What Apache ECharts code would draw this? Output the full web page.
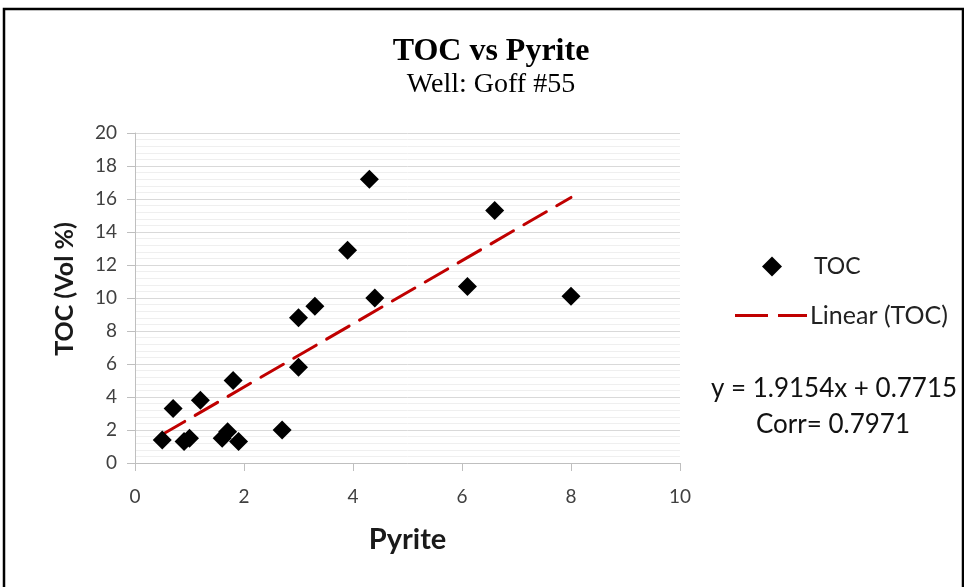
<!DOCTYPE html>
<html>
<head>
<meta charset="utf-8">
<script src="https://cdn.jsdelivr.net/npm/echarts@6/dist/echarts.min.js"></script>
<style>html,body{margin:0;padding:0;background:#fff;}#c{width:964px;height:587px;}</style>
</head>
<body>
<div id="c"></div>
<script>
var pyrite = [0.5, 0.7, 0.9, 1.0, 1.2, 1.6, 1.7, 1.8, 1.9, 2.7, 3.0, 3.0, 3.3, 3.9, 4.3, 4.4, 6.1, 6.6, 8.0];
var toc    = [1.4, 3.3, 1.3, 1.5, 3.8, 1.5, 1.9, 5.0, 1.3, 2.0, 8.8, 5.8, 9.5, 12.9, 17.2, 10.0, 10.7, 15.3, 10.1];
var slope = 1.9154, intercept = 0.7715, corr = 0.7971;

var pts = pyrite.map(function (x, i) { return [x, toc[i]]; });
var xmin = Math.min.apply(null, pyrite), xmax = Math.max.apply(null, pyrite);
var trend = [[xmin, slope * xmin + intercept], [xmax, slope * xmax + intercept]];

var sans = 'Lato, "Open Sans", sans-serif';
var chart = echarts.init(document.getElementById('c'));
chart.setOption({
  animation: false,
  backgroundColor: '#fff',
  grid: { left: 135, right: 284, top: 133, bottom: 124 },
  xAxis: {
    type: 'value', min: 0, max: 10, interval: 2,
    name: 'Pyrite', nameLocation: 'middle', nameGap: 62,
    nameTextStyle: { fontFamily: sans, fontSize: 29, fontWeight: 'bold', color: '#1a1a1a' },
    axisLine: { show: true, lineStyle: { color: '#bfbfbf' } },
    axisTick: { show: true, length: 8, lineStyle: { color: '#bfbfbf' } },
    axisLabel: { fontFamily: sans, fontSize: 19, color: '#404040', margin: 24 },
    splitLine: { show: false }
  },
  yAxis: {
    type: 'value', min: 0, max: 20, interval: 2,
    name: 'TOC (Vol %)', nameLocation: 'middle', nameGap: 58, nameRotate: 90,
    nameTextStyle: { fontFamily: sans, fontSize: 25, fontWeight: 'bold', color: '#1a1a1a', padding: [0, 0, 0, 18] },
    axisLine: { show: true, lineStyle: { color: '#bfbfbf' } },
    axisTick: { show: true, length: 8, lineStyle: { color: '#bfbfbf' } },
    axisLabel: { fontFamily: sans, fontSize: 19, color: '#404040', margin: 18 },
    splitLine: { show: true, lineStyle: { color: '#d9d9d9', width: 1 } },
    minorTick: { show: false, splitNumber: 5 },
    minorSplitLine: { show: true, lineStyle: { color: '#efefef', width: 1 } }
  },
  legend: [{
    data: ['TOC'], orient: 'vertical', left: 757, top: 250,
    icon: 'diamond', itemWidth: 20, itemHeight: 20,
    textStyle: { fontFamily: sans, fontSize: 23, color: '#222', padding: [0, 0, 0, 27] }
  }, {
    data: [{ name: 'Linear (TOC)', icon: 'path://M0,0h33v3h-33z M43,0h29v3h-29z' }],
    orient: 'vertical', left: 730, top: 298,
    itemWidth: 72, itemHeight: 3.2,
    textStyle: { fontFamily: sans, fontSize: 25, color: '#222', padding: [0, 0, 0, -2] }
  }],
  graphic: [
    { type: 'rect', shape: { x: 4, y: 9, width: 959, height: 620 }, style: { fill: 'none', stroke: '#000', lineWidth: 2.5 }, silent: true },
    { type: 'text', x: 491, y: 52, style: { text: 'TOC vs Pyrite', font: 'bold 32px "Liberation Serif", serif', fill: '#000', align: 'center', verticalAlign: 'middle' } },
    { type: 'text', x: 491, y: 85, style: { text: 'Well: Goff #55', font: '28px "Liberation Serif", serif', fill: '#000', align: 'center', verticalAlign: 'middle' } },
    { type: 'text', x: 834, y: 389, style: { text: 'y = ' + slope + 'x + ' + intercept, font: '26px Lato, "Open Sans", sans-serif', fill: '#111', align: 'center', verticalAlign: 'middle' } },
    { type: 'text', x: 833, y: 425, style: { text: 'Corr= ' + corr, font: '26px Lato, "Open Sans", sans-serif', fill: '#111', align: 'center', verticalAlign: 'middle' } }
  ],
  series: [{
    name: 'TOC', type: 'scatter', data: pts,
    symbol: 'diamond', symbolSize: 19,
    itemStyle: { color: '#000', opacity: 1 }, z: 3
  }, {
    name: 'Linear (TOC)', type: 'line', data: trend,
    showSymbol: false, symbol: 'none',
    lineStyle: { color: '#c00000', width: 3, type: [26, 12], cap: 'round' },
    itemStyle: { color: '#c00000' }, z: 2
  }]
});
</script>
</body>
</html>
